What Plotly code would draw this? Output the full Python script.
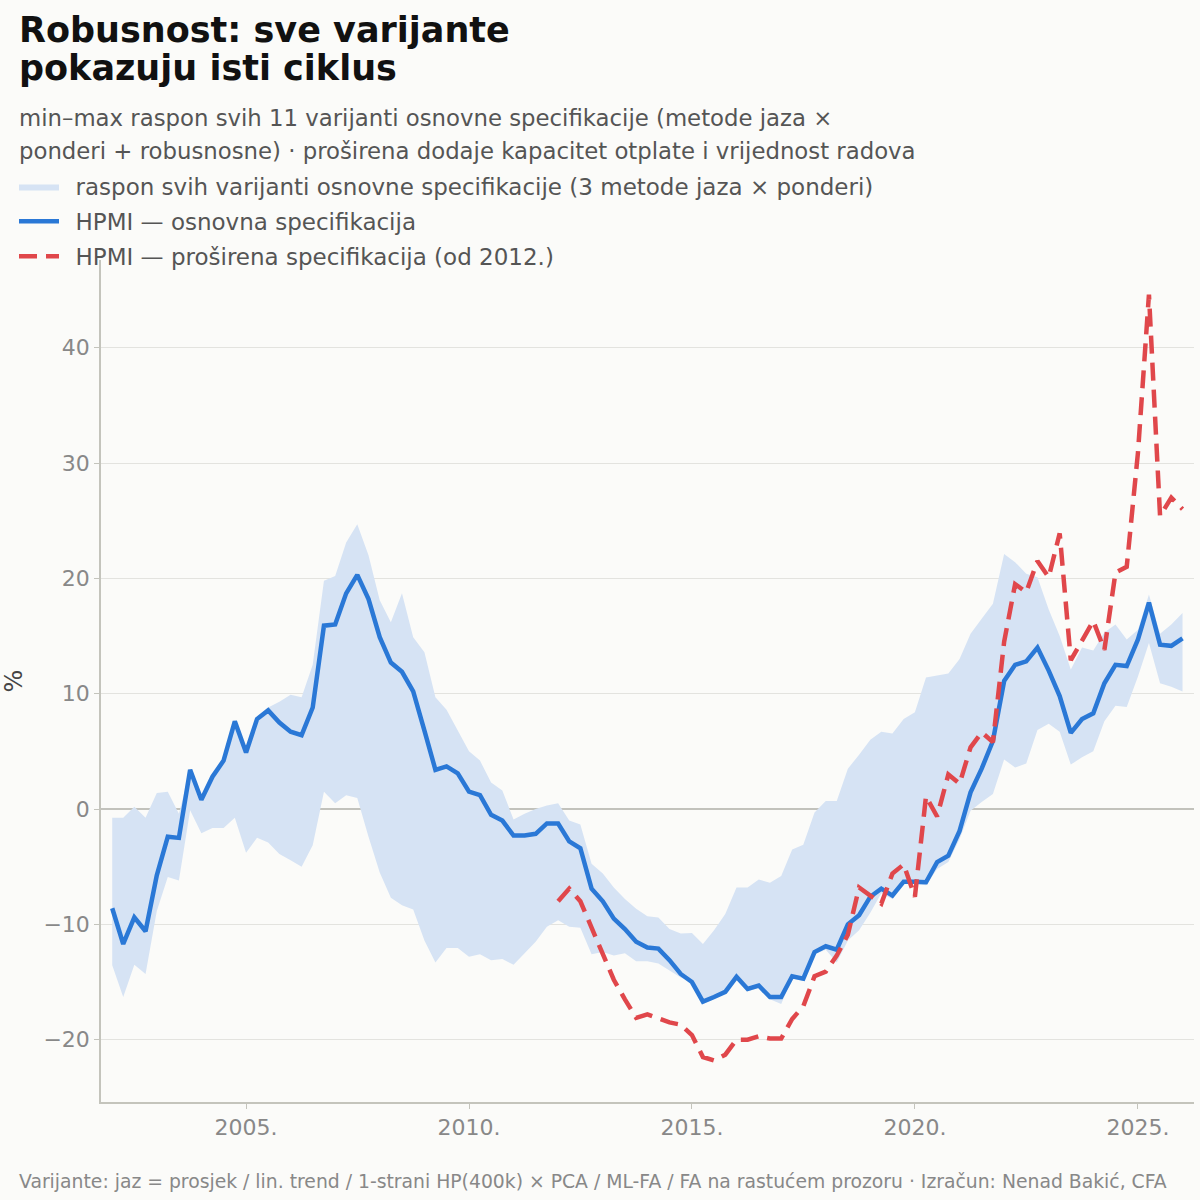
import pandas as pd
import plotly.graph_objects as go

# Quarterly observations, 2002 Q1 .. 2026 Q1
quarters = [d.strftime("%Y-%m-%d") for d in pd.date_range("2002-01-01", periods=97, freq="QS")]

hpmi_base = [
    -8.6, -11.7, -9.4, -10.6, -5.75, -2.4, -2.5, 3.4, 0.8, 2.8,
    4.2, 7.6, 4.9, 7.8, 8.55, 7.5, 6.7, 6.4, 8.8, 15.9,
    16.0, 18.7, 20.3, 18.2, 14.9, 12.7, 11.9, 10.2, 6.8, 3.4,
    3.7, 3.1, 1.5, 1.2, -0.5, -1.0, -2.3, -2.3, -2.15, -1.25,
    -1.25, -2.8, -3.4, -6.9, -8.0, -9.5, -10.4, -11.5, -12.0, -12.1,
    -13.1, -14.3, -15.0, -16.7, -16.3, -15.85, -14.55, -15.6, -15.3, -16.3,
    -16.3, -14.5, -14.7, -12.4, -11.9, -12.2, -10.0, -9.2, -7.6, -6.9,
    -7.5, -6.3, -6.3, -6.35, -4.6, -4.05, -1.9, 1.45, 3.5, 5.9,
    11.1, 12.5, 12.8, 14.0, 12.0, 9.8, 6.6, 7.8, 8.3, 10.9,
    12.5, 12.4, 14.7, 17.9, 14.25, 14.15, 14.8,
]

band_max = [
    -0.75, -0.75, 0.2, -0.75, 1.4, 1.5, -0.4, 3.4, 0.9, 2.9,
    4.3, 7.7, 5.0, 8.0, 8.8, 9.3, 9.9, 9.7, 12.5, 19.8,
    20.2, 23.1, 24.7, 22.0, 18.1, 16.2, 18.7, 14.9, 13.6, 9.7,
    8.6, 6.8, 5.0, 4.2, 2.3, 1.6, -0.9, -0.4, 0.0, 0.3,
    0.5, -1.0, -1.35, -4.75, -5.6, -6.8, -7.8, -8.65, -9.3, -9.4,
    -10.4, -10.8, -10.75, -11.7, -10.5, -9.1, -6.8, -6.8, -6.1, -6.4,
    -5.8, -3.5, -3.1, -0.3, 0.7, 0.7, 3.5, 4.7, 6.0, 6.7,
    6.55, 7.8, 8.4, 11.4, 11.55, 11.75, 13.0, 15.2, 16.5, 17.8,
    22.1, 21.4, 20.4, 20.1, 17.3, 15.0, 12.1, 14.0, 13.75, 15.3,
    16.0, 14.7, 15.55, 18.6, 15.2, 16.0, 17.0,
]

band_min = [
    -13.55, -16.3, -13.5, -14.3, -8.85, -5.9, -6.2, -0.1, -2.1, -1.65,
    -1.65, -0.75, -3.8, -2.5, -2.9, -3.9, -4.45, -5.0, -3.15, 1.5,
    0.5, 1.2, 0.95, -2.4, -5.5, -7.7, -8.35, -8.7, -11.4, -13.3,
    -12.05, -12.05, -12.8, -12.6, -13.1, -13.0, -13.5, -12.5, -11.5, -10.2,
    -9.65, -10.2, -10.3, -12.6, -12.4, -12.7, -12.5, -13.2, -13.2, -13.4,
    -14.0, -14.6, -15.0, -16.9, -16.5, -16.0, -14.7, -15.8, -15.5, -16.5,
    -16.9, -14.7, -14.9, -12.6, -12.2, -13.3, -11.4, -10.5, -9.0, -7.3,
    -7.8, -6.5, -6.5, -6.6, -5.2, -4.6, -2.6, -0.15, 0.6, 1.3,
    4.3, 3.6, 3.95, 6.85, 7.4, 6.7, 3.85, 4.5, 5.0, 7.6,
    8.95, 8.85, 11.5, 14.4, 10.9, 10.6, 10.2,
]

# Extended specification, 2012 Q1 .. 2026 Q1
hpmi_ext = [
    -8.0, -6.9, -8.0, -10.3, -12.5, -14.8, -16.5, -18.1, -17.8, -18.2,
    -18.5, -18.7, -19.6, -21.5, -21.8, -21.3, -20.0, -20.0, -19.7, -19.9,
    -19.9, -18.2, -17.1, -14.5, -14.1, -12.7, -10.9, -6.8, -7.5, -8.2,
    -5.6, -4.8, -7.6, 1.1, -0.65, 3.0, 2.2, 5.35, 6.65, 5.8,
    14.5, 19.5, 18.8, 21.5, 20.1, 23.9, 12.9, 14.7, 16.3, 13.8,
    20.5, 21.0, 30.9, 44.6, 25.4, 27.0, 26.0,
]
quarters_ext = quarters[40:]

tick_years = [2005, 2010, 2015, 2020, 2025]
tick_vals = [f"{y}-01-01" for y in tick_years]
tick_text = [f"{y}." for y in tick_years]

title_lines = ["Robusnost: sve varijante", "pokazuju isti ciklus"]
subtitle_lines = [
    "min–max raspon svih 11 varijanti osnovne specifikacije (metode jaza ×",
    "ponderi + robusnosne) · proširena dodaje kapacitet otplate i vrijednost radova",
]
footer = ("Varijante: jaz = prosjek / lin. trend / 1-strani HP(400k) × PCA / ML-FA / "
          "FA na rastućem prozoru · Izračun: Nenad Bakić, CFA")
legend_names = [
    "raspon svih varijanti osnovne specifikacije (3 metode jaza × ponderi)",
    "HPMI — osnovna specifikacija",
    "HPMI — proširena specifikacija (od 2012.)",
]

BG = "#fbfbf9"
BLUE = "#2a78d6"
RED = "#e0474b"
BAND = "#d6e3f4"
PAD = "\u2002"  # en space between legend symbol and label

fig = go.Figure()
fig.add_trace(go.Scatter(
    x=quarters, y=band_min, mode="lines", line=dict(width=0, color=BAND),
    showlegend=False, hoverinfo="skip", legendgroup="a",
))
fig.add_trace(go.Scatter(
    x=quarters, y=band_max, mode="lines", line=dict(width=0, color=BAND),
    fill="tonexty", fillcolor=BAND, legendgroup="a",
    name=PAD + legend_names[0],
))
fig.add_trace(go.Scatter(
    x=quarters, y=hpmi_base, mode="lines", line=dict(width=4.5, color=BLUE),
    name=PAD + legend_names[1], legendgroup="b",
))
fig.add_trace(go.Scatter(
    x=quarters_ext, y=hpmi_ext, mode="lines",
    line=dict(width=4.5, color=RED, dash="18px,9px"),
    name=PAD + legend_names[2], legendgroup="c",
))

L, R, T, B = 101, 6, 260, 98
W, H = 1200, 1200
pw, ph = W - L - R, H - T - B

def px_x(x):
    return (x - L) / pw

def px_y(y):
    return (H - B - y) / ph

FONT = "DejaVu Sans"

def text_ann(text, x, y, size, color, bold=False):
    return dict(text=f"<b>{text}</b>" if bold else text,
                x=px_x(x), y=px_y(y), xref="paper", yref="paper",
                xanchor="left", yanchor="middle", showarrow=False,
                font=dict(family=FONT, size=size, color=color))

annotations = [
    text_ann(title_lines[0], 17, 30, 35, "#111", bold=True),
    text_ann(title_lines[1], 17, 68, 35, "#111", bold=True),
    text_ann(subtitle_lines[0], 17, 118, 22.8, "#555"),
    text_ann(subtitle_lines[1], 17, 151, 22.8, "#555"),
    text_ann(footer, 17, 1181, 18.8, "#888"),
]

fig.update_layout(
    width=W, height=H,
    margin=dict(l=L, r=R, t=T, b=B),
    paper_bgcolor=BG, plot_bgcolor=BG,
    font=dict(family=FONT, color="#555"),
    legend=dict(
        x=px_x(14), xanchor="left", y=px_y(165), yanchor="top",
        font=dict(family=FONT, size=23, color="#555"),
        bgcolor="rgba(0,0,0,0)", traceorder="grouped", tracegroupgap=2,
        itemwidth=40,
    ),
    showlegend=True,
    xaxis=dict(
        type="date", range=["2001-10-01", "2026-04-05"],
        tickvals=tick_vals, ticktext=tick_text,
        showgrid=False, showline=True, linecolor="#c4c4bc", linewidth=1.5,
        ticks="outside", ticklen=5, tickcolor="#c4c4bc",
        tickfont=dict(family=FONT, size=22, color="#888"),
        zeroline=False,
    ),
    yaxis=dict(
        range=[-25.4, 47.6],
        tickvals=[-20, -10, 0, 10, 20, 30, 40],
        showgrid=True, gridcolor="#e3e3df", gridwidth=1,
        showline=True, linecolor="#c4c4bc", linewidth=1.5,
        ticks="outside", ticklen=5, tickcolor="#c4c4bc",
        tickfont=dict(family=FONT, size=22, color="#888"),
        zeroline=True, zerolinecolor="#c2c2bc", zerolinewidth=1.5,
        title=dict(text="%", font=dict(family=FONT, size=24, color="#444"), standoff=14),
    ),
    annotations=annotations,
)

fig.write_html("out.html")
